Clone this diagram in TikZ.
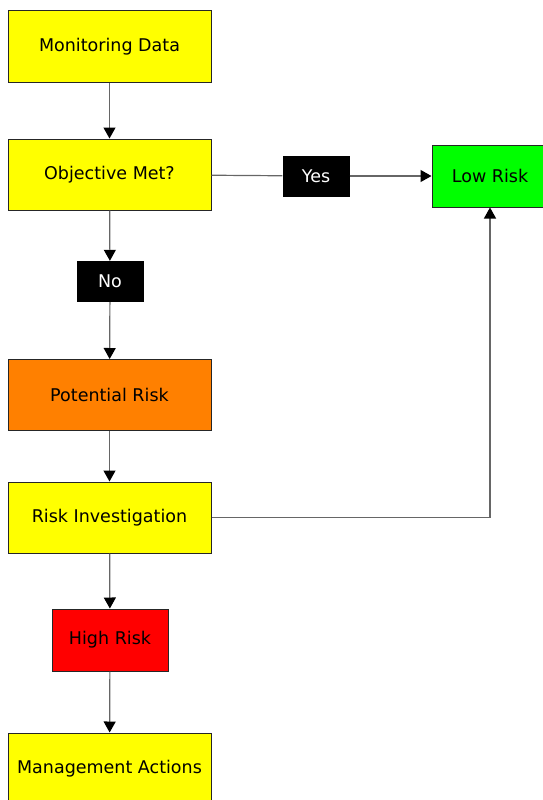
\documentclass[tikz,border=0pt]{standalone}
\usepackage{fontspec}
\setmainfont{DejaVu Sans}
\usetikzlibrary{arrows.meta,positioning}
\definecolor{dataYellow}{RGB}{255,255,0}
\definecolor{lowGreen}{RGB}{0,255,0}
\definecolor{potOrange}{RGB}{255,128,0}
\definecolor{highRed}{RGB}{255,0,0}

\begin{document}
\begin{tikzpicture}[x=1pt,y=-1pt,
    box/.style={draw=black!85,line width=1pt,minimum width=203pt,minimum height=71pt,inner sep=0pt,font=\fontsize{17.5}{21}\selectfont},
    riskbox/.style={box,minimum width=116pt,minimum height=62pt},
    tag/.style={fill=black,text=white,minimum width=67pt,minimum height=41pt,inner sep=0pt,font=\fontsize{17.5}{21}\selectfont},
    plain/.style={draw=black!60,line width=1.2pt},
    link/.style={plain,-{Triangle[length=11pt,width=12pt,black]}}]
    \useasboundingbox (0,0) rectangle (543,800);
    \clip (0,0) rectangle (543,800);
    % boxes
    \node[box,fill=dataYellow] (mon) at (109.5,46.5) {Monitoring Data};
    \node[box,fill=dataYellow] (obj) at (109.5,174.5) {Objective Met?};
    \node[tag] (yes) at (316,176) {Yes};
    \node[riskbox,fill=lowGreen] (low) at (490,176) {Low Risk};
    \node[tag] (no) at (110,281.5) {No};
    \node[box,fill=potOrange] (pot) at (109.5,395) {Potential Risk};
    \node[box,fill=dataYellow] (inv) at (109.5,517.5) {Risk Investigation};
    \node[riskbox,fill=highRed] (high) at (110,640) {High Risk};
    \node[box,fill=dataYellow] (mgmt) at (109.5,768.5) {Management Actions};
    % connectors
    \draw[link] (mon) -- (obj);
    \draw[plain] (obj) -- (yes);
    \draw[link] (yes) -- (low);
    \draw[link] (obj) -- (no);
    \draw[link] (no) -- (pot);
    \draw[link] (pot) -- (inv);
    \draw[link] (inv) -| (low);
    \draw[link] (inv) -- (high);
    \draw[link] (high) -- (mgmt);
\end{tikzpicture}
\end{document}
